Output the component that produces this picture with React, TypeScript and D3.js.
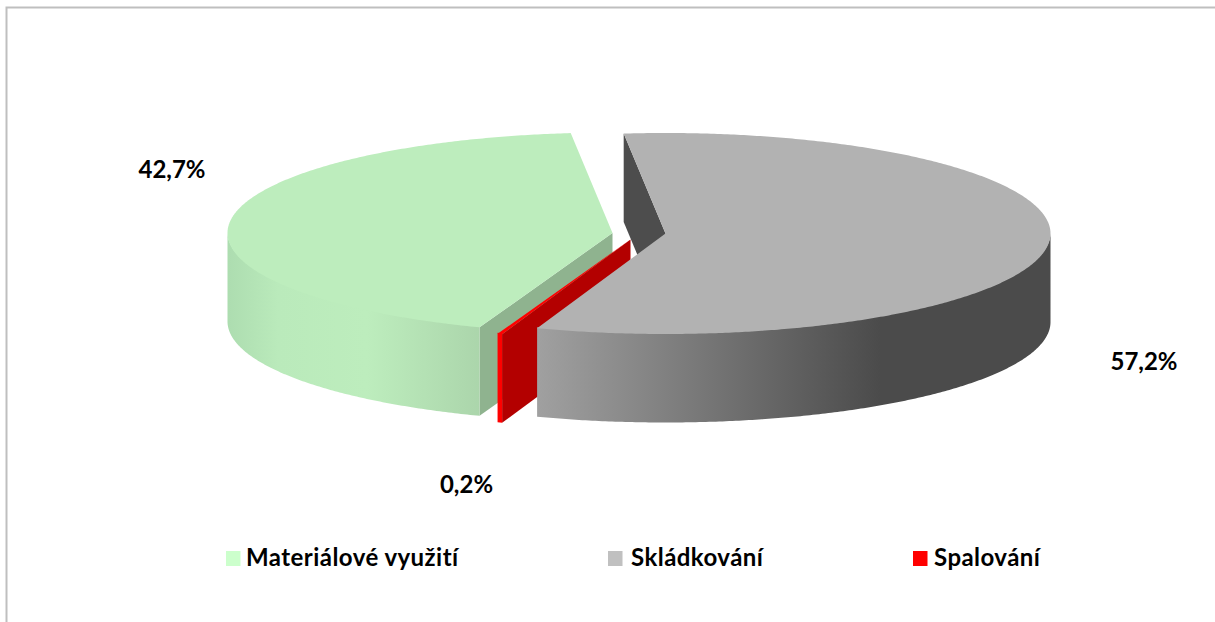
import React from "react";
import * as d3 from "d3";

const categories = ["Materiálové využití", "Skládkování", "Spalování"];
const values = [42.7, 57.2, 0.2];
const labels = ["42,7%", "57,2%", "0,2%"];
const topColors = ["#BDEDBD", "#B2B2B2", "#FF0000"];
const faceColors = ["#8FB38F", "#4D4D4D", "#B30000"];
const legendColors = ["#CCFFCC", "#C0C0C0", "#FF0000"];

const W = 1215;
const H = 622;
const RX = 385;
const RY = 100.5;
const DEPTH = 88.5;
const rad = (d: number) => (d * Math.PI) / 180;
const centers = [
  { x: 612.5, y: 233 },
  { x: 665.5, y: 233.5 },
  { x: 630.5, y: 239.5 },
];
const labelPos = [
  { x: 172, y: 178 },
  { x: 1144, y: 370 },
  { x: 466.5, y: 493 },
];
const legendPos = [
  { sx: 226, tx: 246 },
  { sx: 608, tx: 631 },
  { sx: 913, tx: 934 },
];

const arcs = d3
  .pie<number>()
  .sort(null)
  .startAngle(rad(200.2))
  .endAngle(rad(200.2 + 360))(values);

const pt = (i: number, a: number, dz = 0): [number, number] => [
  centers[i].x + RX * Math.sin(a),
  centers[i].y - RY * Math.cos(a) + dz,
];
const line = d3.line();

const sample = (a0: number, a1: number) => {
  const n = Math.max(2, Math.ceil(Math.abs(a1 - a0) / rad(0.5)));
  return d3.range(n + 1).map((k) => a0 + ((a1 - a0) * k) / n);
};

const topPath = (i: number) => {
  const c: [number, number] = [centers[i].x, centers[i].y];
  return line([c, ...sample(arcs[i].startAngle, arcs[i].endAngle).map((a) => pt(i, a))]) + "Z";
};
const cutPath = (i: number, a: number) => {
  const c: [number, number] = [centers[i].x, centers[i].y];
  const o = pt(i, a);
  return line([c, o, [o[0], o[1] + DEPTH], [c[0], c[1] + DEPTH]]) + "Z";
};
const wallPath = (i: number) => {
  const PI = Math.PI;
  const norm = (a: number) => {
    let v = a;
    while (v >= 2 * PI) v -= 2 * PI;
    return v;
  };
  let s = arcs[i].startAngle;
  let e = arcs[i].endAngle;
  const s0 = norm(s);
  e = s0 + (e - s);
  s = s0;
  // the front half of the rim spans 90deg..270deg
  let a0 = Math.max(s, PI / 2);
  let a1 = Math.min(e, (3 * PI) / 2);
  if (s > (3 * PI) / 2) {
    a0 = Math.max(s, PI / 2 + 2 * PI);
    a1 = Math.min(e, (3 * PI) / 2 + 2 * PI);
  }
  const as = sample(a0, a1);
  // the upper edge runs 1px under the top face so that nothing shows through the seam
  return (
    line([...as.map((a) => pt(i, a, -1)), ...as.slice().reverse().map((a) => pt(i, a, DEPTH))]) + "Z"
  );
};

const greenCut = arcs[0].startAngle;
const greySideCut = arcs[1].startAngle;
const redCut = arcs[2].startAngle;

export default function App() {
  return (
    <svg
      width={W}
      height={H}
      viewBox={`0 0 ${W} ${H}`}
      style={{ position: "absolute", left: 0, top: 0, background: "#fff" }}
    >
      <defs>
        <linearGradient id="wall0" gradientUnits="userSpaceOnUse" x1={228} x2={481} y1={0} y2={0}>
          <stop offset="0" stopColor="#ADDDB0" />
          <stop offset="0.2" stopColor="#BAEABB" />
          <stop offset="0.55" stopColor="#BDEDBD" />
          <stop offset="1" stopColor="#ABD5AB" />
        </linearGradient>
        <linearGradient id="wall1" gradientUnits="userSpaceOnUse" x1={538} x2={880} y1={0} y2={0}>
          <stop offset="0" stopColor="#A0A0A0" />
          <stop offset="1" stopColor="#4B4B4B" />
        </linearGradient>
      </defs>
      <rect x={0} y={0} width={W} height={H} fill="#fff" />
      <path d={`M6.5 622V7.5H1215`} fill="none" stroke="#BFBFBF" strokeWidth={2} />

      {/* green slice */}
      <path d={cutPath(0, greenCut)} fill={faceColors[0]} />
      <path d={wallPath(0)} fill="url(#wall0)" />
      <path d={topPath(0)} fill={topColors[0]} />

      {/* red slice */}
      <path d={cutPath(2, redCut)} fill={faceColors[2]} />
      <path d={wallPath(2)} fill={topColors[2]} />
      <path d={topPath(2)} fill={topColors[2]} />

      {/* grey slice */}
      <path d={cutPath(1, greySideCut)} fill={faceColors[1]} />
      <path d={wallPath(1)} fill="url(#wall1)" />
      <path d={topPath(1)} fill={topColors[1]} />

      <g fontFamily="Lato, 'Open Sans', sans-serif" fontWeight={700} fontSize={24} fill="#000">
        {labels.map((t, i) => (
          <text key={t} x={labelPos[i].x} y={labelPos[i].y} textAnchor="middle">
            {t}
          </text>
        ))}
        {categories.map((c, i) => (
          <g key={c}>
            <rect x={legendPos[i].sx} y={551} width={14.5} height={15} fill={legendColors[i]} />
            <text x={legendPos[i].tx} y={566} letterSpacing={0.45}>
              {c}
            </text>
          </g>
        ))}
      </g>
    </svg>
  );
}
